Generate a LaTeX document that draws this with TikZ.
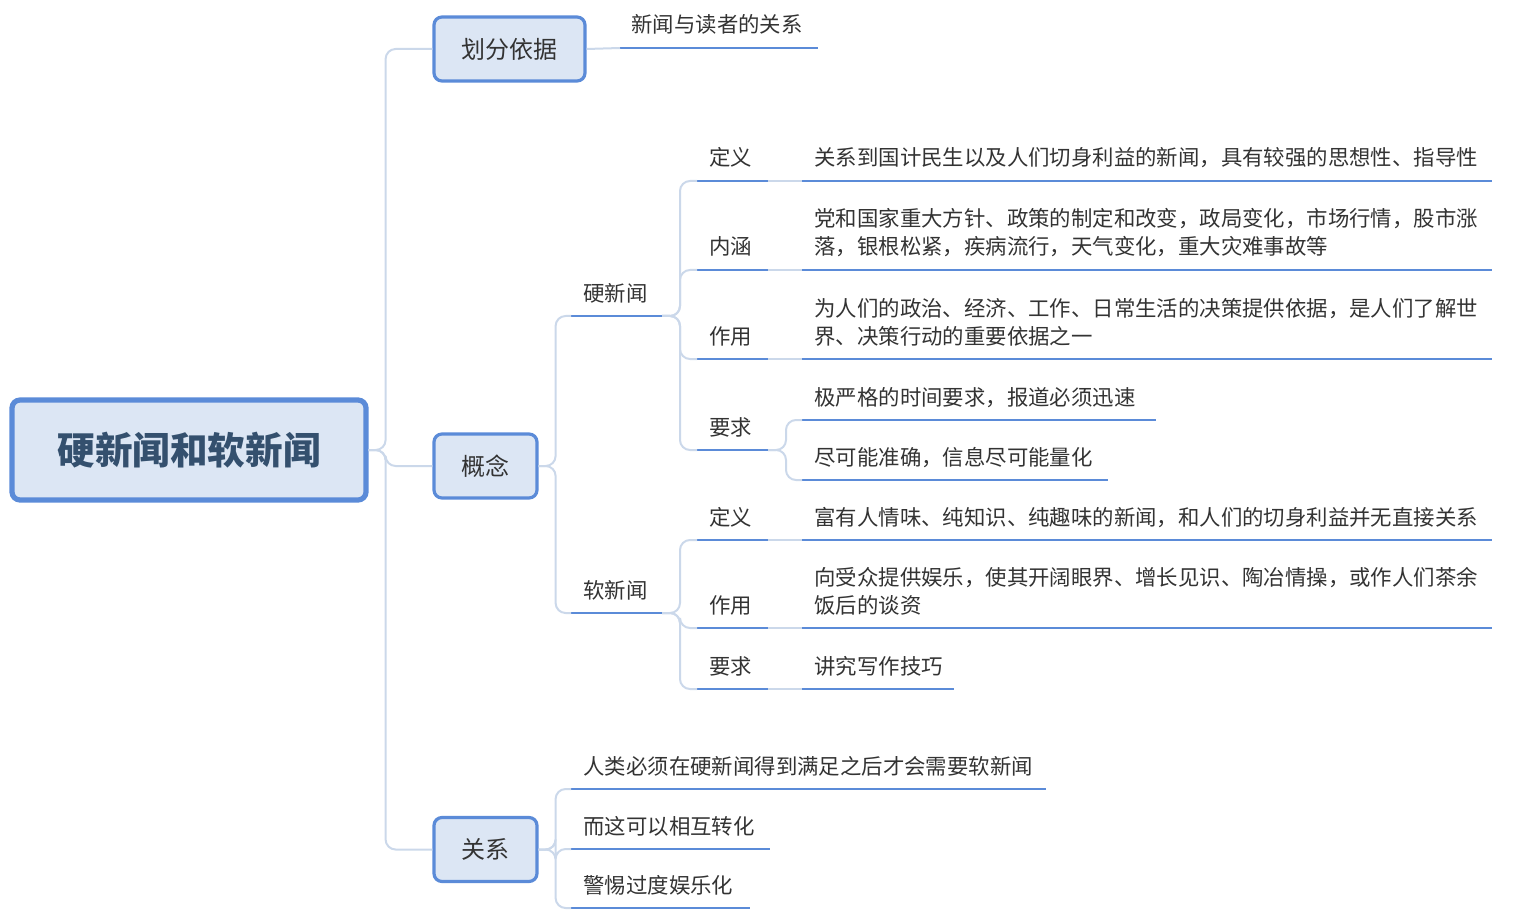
\documentclass[tikz,border=0pt]{standalone}
\usepackage{fontspec}
\setmainfont{Noto Sans CJK SC}
\definecolor{ubl}{HTML}{5B8BD8}
\definecolor{cl}{HTML}{CBD8EA}
\definecolor{bfill}{HTML}{DCE6F4}
\definecolor{tx}{HTML}{333333}
\definecolor{rtx}{HTML}{34506E}
\newcommand\uitem[6]{%
 \coordinate (#1l) at (#2,#4); \coordinate (#1r) at (#3,#4);
 \draw[ul] (#1l)--(#1r);
 \node[txt] (#1t) at (#5,#4-15) {#6};}
\newcommand\uitemii[7]{%
 \coordinate (#1l) at (#2,#4); \coordinate (#1r) at (#3,#4);
 \draw[ul] (#1l)--(#1r);
 \node[txt] (#1a) at (#5,#4-43) {#6};
 \node[txt] (#1b) at (#5,#4-15) {#7};}
\begin{document}
\begin{tikzpicture}[x=0.5pt,y=-0.5pt,
 box/.style={draw=ubl, line width=1.6pt, fill=bfill, rounded corners=4pt, inner sep=0, text=tx, font=\fontsize{12}{14}\selectfont},
 conn/.style={draw=cl, line width=1pt, rounded corners=5pt},
 ul/.style={draw=ubl, line width=1pt},
 txt/.style={anchor=base west, inner sep=0, text=tx, font=\fontsize{10.7}{13}\selectfont}]
\useasboundingbox (0,0) rectangle (1513,919);
\node[box, line width=2.6pt, minimum width=177pt, minimum height=50pt, text=rtx, font=\fontsize{18.8}{22}\selectfont\bfseries] (root) at (189,450) {硬新闻和软新闻};
\node[box, minimum width=75.5pt, minimum height=32pt] (b1) at (509.5,49) {划分依据};
\node[box, minimum width=51.5pt, minimum height=32pt] (b2) at (485.5,466) {概念};
\node[box, minimum width=51.5pt, minimum height=32pt] (b3) at (485.5,849.5) {关系};
\draw[conn] (root.east) -- ++(17,0) |- (b1.west);
\draw[conn] (root.east) -- ++(17,0) |- (b2.west);
\draw[conn] (root.east) -- ++(17,0) |- (b3.west);
% 划分依据
\uitem{r1}{620}{818}{48}{631}{新闻与读者的关系}
\draw[conn] (b1.east) -- (r1l);
% 概念
\uitem{hard}{571}{662}{316}{583}{硬新闻}
\uitem{soft}{571}{662}{613}{583}{软新闻}
\draw[conn] (b2.east) -- ++(17,0) |- (hardl);
\draw[conn] (b2.east) -- ++(17,0) |- (softl);
% hard children
\uitem{hd}{697}{768}{181}{709}{定义}
\uitem{hn}{697}{768}{270}{709}{内涵}
\uitem{hz}{697}{768}{359}{709}{作用}
\uitem{hy}{697}{768}{450}{709}{要求}
\foreach \c in {hd,hn,hz,hy} \draw[conn] (hardr) -- ++(18,0) |- (\c l);
\uitem{hdc}{802}{1492}{181}{814}{关系到国计民生以及人们切身利益的新闻，具有较强的思想性、指导性}
\draw[conn] (hdr) -- (hdcl);
\uitemii{hnc}{802}{1492}{270}{814}{党和国家重大方针、政策的制定和改变，政局变化，市场行情，股市涨}{落，银根松紧，疾病流行，天气变化，重大灾难事故等}
\draw[conn] (hnr) -- (hncl);
\uitemii{hzc}{802}{1492}{359}{814}{为人们的政治、经济、工作、日常生活的决策提供依据，是人们了解世}{界、决策行动的重要依据之一}
\draw[conn] (hzr) -- (hzcl);
\uitem{hy1}{802}{1156}{420}{814}{极严格的时间要求，报道必须迅速}
\uitem{hy2}{802}{1108}{480}{814}{尽可能准确，信息尽可能量化}
\draw[conn] (hyr) -- ++(18,0) |- (hy1l);
\draw[conn] (hyr) -- ++(18,0) |- (hy2l);
% soft children
\uitem{sd}{697}{768}{540}{709}{定义}
\uitem{sz}{697}{768}{628}{709}{作用}
\uitem{sy}{697}{768}{689}{709}{要求}
\foreach \c in {sd,sz,sy} \draw[conn] (softr) -- ++(18,0) |- (\c l);
\uitem{sdc}{802}{1492}{540}{814}{富有人情味、纯知识、纯趣味的新闻，和人们的切身利益并无直接关系}
\draw[conn] (sdr) -- (sdcl);
\uitemii{szc}{802}{1492}{628}{814}{向受众提供娱乐，使其开阔眼界、增长见识、陶冶情操，或作人们茶余}{饭后的谈资}
\draw[conn] (szr) -- (szcl);
\uitem{syc}{802}{954}{689}{814}{讲究写作技巧}
\draw[conn] (syr) -- (sycl);
% 关系
\uitem{g1}{571}{1046}{789}{583}{人类必须在硬新闻得到满足之后才会需要软新闻}
\uitem{g2}{571}{770}{849}{583}{而这可以相互转化}
\uitem{g3}{571}{750}{908}{583}{警惕过度娱乐化}
\foreach \c in {g1,g2,g3} \draw[conn] (b3.east) -- ++(17,0) |- (\c l);
\end{tikzpicture}
\end{document}
